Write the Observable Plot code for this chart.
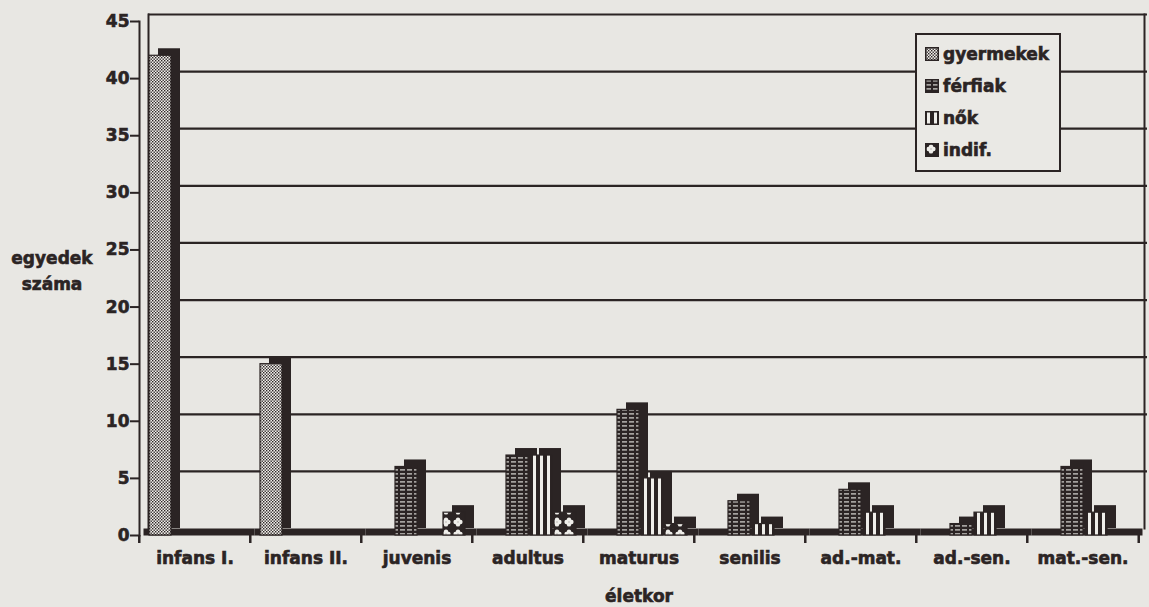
<!DOCTYPE html>
<html><head><meta charset="utf-8">
<script src="https://cdn.jsdelivr.net/npm/d3@7"></script>
<script src="https://cdn.jsdelivr.net/npm/@observablehq/plot@0.6"></script>
<style>
body{margin:0;background:#e8e7e3;font-family:"DejaVu Sans",sans-serif;font-weight:bold;color:#2b2424}
#wrap{position:relative;width:1149px;height:607px;overflow:hidden}
#wrap > svg{position:absolute;left:0;top:0}
#wrap svg text{stroke:#2b2424;stroke-width:0.6px}
.ylab,.xlab,.legend span{-webkit-text-stroke:0.6px #2b2424}
.ylab{position:absolute;left:0;top:245px;width:104px;text-align:center;font-size:17px;line-height:26px}
.xlab{position:absolute;left:539px;width:200px;top:586px;text-align:center;font-size:17px;line-height:20px}
.legend{position:absolute;left:915px;top:33px;width:142px;height:135px;border:2px solid #2b2424;background:#eae9e5;box-sizing:content-box;padding:0}
.legend .row{position:absolute;left:8px;height:20px;display:flex;align-items:center;font-size:17px;line-height:20px}
.legend svg{position:static;margin-right:4px}
</style></head><body>
<div id="wrap"></div>
<script>
// ---- data ----
const categories = ["infans I.","infans II.","juvenis","adultus","maturus","senilis","ad.-mat.","ad.-sen.","mat.-sen."];
const series = ["gyermekek","férfiak","nők","indif."];
const gyermekek = [42,15,0,0,0,0,0,0,0];
const ferfiak   = [0,0,6,7,11,3,4,1,6];
const nok       = [0,0,0,7,5,1,2,2,2];
const indif     = [0,0,2,2,1,0,0,0,0];
const yTicks = [0,5,10,15,20,25,30,35,40,45];
const gridValues = [5,10,15,20,25,30,35,40,45];

const values = [gyermekek, ferfiak, nok, indif];
const patternIds = ["pg","pf","pn","pi"];
const rows = [];
series.forEach((s,i)=>categories.forEach((c,j)=>{ if(values[i][j]>0) rows.push({cat:c, series:s, value:values[i][j]}); }));

const ink = "#2b2424";
const W = 1149, H = 607, ml = 137, mr = 9, mt = 21, mb = 72;
const bw = (W - ml - mr) / categories.length;
const depth = {dx: 9, dy: -7};

const barMarks = [];
series.forEach((s,i)=>{
  const d = rows.filter(r=>r.series===s);
  barMarks.push(Plot.barY(d, {fx:"cat", x:"series", y:"value", fill:ink, insetLeft:2, ...depth}));
  barMarks.push(Plot.barY(d, {fx:"cat", x:"series", y:"value", fill:`url(#${patternIds[i]})`, stroke:ink, strokeWidth:1.2, insetLeft:2}));
});

const chart = Plot.plot({
  width: W, height: H,
  marginLeft: ml, marginRight: mr, marginTop: mt, marginBottom: mb,
  style: {background:"transparent", color: ink, fontFamily:"DejaVu Sans, sans-serif"},
  fx: {domain: categories, padding: 0, label: null},
  x: {domain: series, paddingInner: 0, paddingOuter: 0.3, axis: null},
  y: {domain: [0,45], axis: null},
  marks: [
    // back wall grid (repeated in every facet, facets are contiguous)
    Plot.ruleY(gridValues, {stroke: ink, strokeWidth: 2.2, ...depth}),
    Plot.frame({anchor:"left", stroke: ink, strokeWidth: 2, facet:"super", ...depth}),
    Plot.frame({anchor:"right", stroke: ink, strokeWidth: 2, facet:"super", dx: 6, dy: -7}),
    Plot.frame({anchor:"left", stroke: ink, strokeWidth: 2, facet:"super"}),
    // floor
    Plot.ruleY([0], {stroke: ink, strokeWidth: 7, dy: -3.5, dx: 4.5}),
    ...barMarks,
    Plot.axisY({ticks: yTicks, tickSize: 9, tickPadding: 1, fontSize: 17, fontWeight: "bold", strokeWidth: 2, label: null}),
    Plot.axisFx({anchor:"bottom", tickSize: 0, tickPadding: 16, fontSize: 17, fontWeight: "bold", label: null}),
    Plot.axisFx({anchor:"bottom", tickSize: 8, text: null, dx: -bw/2, strokeWidth: 2.5, label: null}),
    Plot.axisFx({anchor:"bottom", ticks: [categories[categories.length-1]], tickSize: 8, text: null, dx: bw/2, strokeWidth: 2.5, label: null})
  ]
});

// patterns for the bar faces
const defs = `
<defs>
 <pattern id="pg" patternUnits="userSpaceOnUse" width="3" height="3">
   <rect width="3" height="3" fill="#f1f0ec"/>
   <rect x="0" y="0" width="1.4" height="1.4" fill="#2b2424"/>
   <rect x="1.5" y="1.5" width="1.4" height="1.4" fill="#2b2424"/>
 </pattern>
 <pattern id="pf" patternUnits="userSpaceOnUse" width="7" height="4">
   <rect width="7" height="4" fill="#2b2424"/>
   <rect x="1" y="1.3" width="5" height="1.2" fill="#d9d8d4"/>
 </pattern>
 <pattern id="pn" patternUnits="userSpaceOnUse" width="7" height="7">
   <rect width="7" height="7" fill="#2b2424"/>
   <rect x="2" y="0" width="3" height="7" fill="#efeeea"/>
 </pattern>
 <pattern id="pi" patternUnits="userSpaceOnUse" width="12" height="12">
   <rect width="12" height="12" fill="#2b2424"/>
   <circle cx="6" cy="3.6" r="2.2" fill="#efeeea"/>
   <circle cx="6" cy="8.4" r="2.2" fill="#efeeea"/>
   <circle cx="3.6" cy="6" r="2.2" fill="#efeeea"/>
   <circle cx="8.4" cy="6" r="2.2" fill="#efeeea"/>
 </pattern>
</defs>`;
chart.insertAdjacentHTML("afterbegin", defs);

const wrap = document.getElementById("wrap");
wrap.appendChild(chart);

const yl = document.createElement("div");
yl.className = "ylab"; yl.innerHTML = "egyedek<br>száma";
wrap.appendChild(yl);
const xl = document.createElement("div");
xl.className = "xlab"; xl.textContent = "életkor";
wrap.appendChild(xl);

const lg = document.createElement("div");
lg.className = "legend";
series.forEach((s,i)=>{
  const r = document.createElement("div");
  r.className = "row";
  r.style.top = (9 + i*32) + "px";
  r.innerHTML = `<svg width="14" height="14"><rect x="0.75" y="0.75" width="12.5" height="12.5" fill="url(#${patternIds[i]})" stroke="#2b2424" stroke-width="1.5"/></svg><span>${s}</span>`;
  lg.appendChild(r);
});
wrap.appendChild(lg);
</script>
</body></html>
